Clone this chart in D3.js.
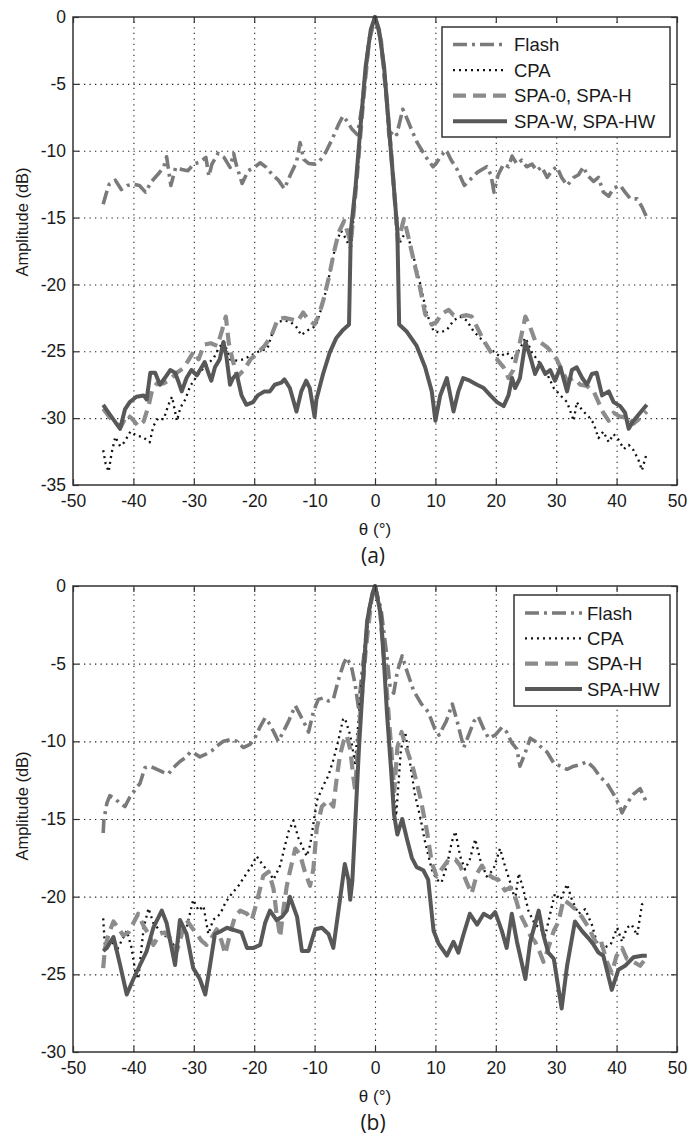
<!DOCTYPE html>
<html><head><meta charset="utf-8">
<script src="https://cdn.jsdelivr.net/npm/d3@7/dist/d3.min.js"></script>
<style>
body{margin:0;background:#fff;}
text{font-family:"Liberation Sans",Arial,Helvetica,sans-serif;fill:#1a1a1a;}
</style>
</head><body>
<svg id="chart" width="690" height="1136"></svg>
<script>
// ---------- data ----------
const xTicks = [-50,-40,-30,-20,-10,0,10,20,30,40,50];
const aYTicks = [0,-5,-10,-15,-20,-25,-30,-35];
const bYTicks = [0,-5,-10,-15,-20,-25,-30];
const aLegendLabels = ["Flash","CPA","SPA-0, SPA-H","SPA-W, SPA-HW"];
const bLegendLabels = ["Flash","CPA","SPA-H","SPA-HW"];
const xLabel = "θ (°)";
const yLabel = "Amplitude (dB)";
const captions = ["(a)","(b)"];

// panel (a): [theta, dB]
const aFlash = [[-45,-14.0],[-44.5,-13.2],[-44,-12.5],[-43,-12.2],[-42,-12.9],[-41,-12.6],[-40,-12.5],[-39,-12.6],[-38,-13.1],[-37,-12.3],[-36,-11.8],[-35,-11.25],[-34.5,-10.45],[-33.8,-12.6],[-33,-11.25],[-32,-11.4],[-31,-11.5],[-30,-11.0],[-29,-10.85],[-28,-10.5],[-27.5,-11.9],[-27,-11.0],[-26,-10.2],[-25,-10.5],[-24,-11.25],[-23.4,-10.2],[-23,-11.0],[-22,-12.45],[-21,-11.5],[-20,-11.25],[-19,-10.9],[-18,-11.25],[-17,-11.8],[-16,-12.2],[-15,-12.85],[-14,-11.8],[-13,-10.85],[-12.4,-9.4],[-11.8,-10.65],[-11,-10.95],[-10,-11.0],[-9.2,-10.8],[-8.2,-10.15],[-7.1,-9.15],[-6,-8.0],[-5.3,-7.4],[-4.6,-7.8],[-3.8,-8.4],[-2.9,-8.8],[-2.2,-6.8],[-1,-1.8],[0,0],[1,-1.8],[2,-6.6],[2.3,-8.9],[3.1,-8.5],[3.6,-8.8],[4.6,-6.9],[5.4,-7.7],[6.2,-8.6],[7.0,-9.4],[7.8,-10.0],[8.7,-10.65],[9.6,-11.2],[10.2,-10.9],[10.9,-10.4],[11.8,-9.95],[12.6,-10.7],[13.6,-11.4],[14.8,-12.6],[15.9,-12.1],[17,-11.6],[18.5,-11.2],[19.2,-11.8],[19.7,-13.1],[20.4,-11.8],[21.3,-11.0],[22.1,-11.2],[22.7,-10.4],[23.5,-11.0],[24.3,-10.7],[25.1,-11.2],[26,-11.0],[26.8,-11.5],[27.6,-11.2],[28.5,-12.0],[29.3,-11.5],[30.1,-11.2],[30.9,-12.0],[31.8,-12.6],[32.9,-12.0],[33.7,-11.8],[34.5,-11.2],[35.1,-11.8],[36.2,-12.3],[37,-12.0],[37.8,-13.1],[38.7,-13.4],[39.5,-12.8],[40.6,-12.6],[41.4,-13.1],[42.3,-13.6],[43.4,-13.6],[44.2,-14.2],[45,-15.0]];
const aCpa = [[-45,-32.4],[-44.6,-33.4],[-44.1,-34.0],[-43.6,-32.6],[-43,-31.4],[-42.2,-32.1],[-41.5,-31.8],[-40.5,-31.0],[-39.5,-31.3],[-38.5,-31.4],[-37.3,-31.8],[-36.7,-30.6],[-35.9,-30.0],[-35,-30.1],[-34.2,-29.0],[-33.6,-28.4],[-32.8,-30.2],[-32.2,-29.2],[-31.4,-28.6],[-30.6,-27.6],[-29.7,-27.0],[-28.9,-26.5],[-27.8,-26.0],[-26.7,-25.5],[-25.8,-24.7],[-25,-24.3],[-24,-25.6],[-22.8,-25.7],[-21.7,-25.6],[-20.5,-25.3],[-19.2,-25.0],[-17.8,-24.8],[-17.2,-23.9],[-16.2,-22.8],[-15,-22.7],[-14,-22.8],[-13,-23.2],[-12.2,-23.8],[-11.4,-23.5],[-10.6,-23.3],[-9.8,-23.1],[-8.6,-21.4],[-7.5,-19.2],[-6.4,-16.8],[-5.6,-16.0],[-4.8,-16.6],[-4.0,-17.4],[-3,-12],[-2,-6.5],[-1,-1.8],[0,0],[1,-1.8],[2,-6.5],[3,-12],[3.8,-17.2],[4.4,-16.6],[5.2,-16.0],[6.1,-17.4],[7.5,-20.0],[8.6,-22.2],[9.7,-23.5],[10.8,-23.6],[11.9,-23.4],[13,-22.7],[14.1,-22.4],[15.2,-22.7],[16.3,-23.5],[17.4,-24.0],[18.5,-24.6],[19.6,-25.0],[20.7,-25.4],[21.8,-25.1],[22.9,-25.6],[24,-24.8],[24.9,-24.0],[26,-25.1],[27.3,-25.9],[28.5,-26.7],[29.6,-27.75],[30.7,-28.3],[31.8,-28.8],[32.9,-30.2],[33.4,-28.8],[34.3,-29.4],[35.4,-29.9],[36.2,-30.4],[37,-31.5],[37.8,-31.0],[38.7,-31.8],[39.5,-31.2],[40.3,-31.6],[41.2,-32.3],[42,-32.0],[42.8,-32.4],[43.6,-33.1],[44.2,-33.9],[45,-32.6]];
const aSpa = [[-45,-29.3],[-44,-29.9],[-43,-30.4],[-42,-30.6],[-41.1,-29.75],[-40.3,-30.0],[-39.2,-30.6],[-38.3,-30.25],[-37.5,-29.1],[-36.9,-27.9],[-36.1,-27.4],[-35,-27.4],[-33.9,-27.1],[-32.8,-26.6],[-31.7,-26.25],[-30.8,-25.6],[-30,-25.0],[-29.2,-25.6],[-28.3,-24.5],[-27.2,-24.4],[-26.1,-24.6],[-25.3,-23.4],[-24.7,-22.4],[-24.2,-24.4],[-23.6,-25.6],[-22.8,-26.9],[-21.7,-26.4],[-20.6,-25.6],[-19.4,-25.1],[-18.3,-24.6],[-17.2,-23.9],[-16.1,-22.6],[-15,-22.5],[-13.9,-22.6],[-12.8,-22.75],[-11.9,-22.1],[-11.1,-22.6],[-10,-23.0],[-9.3,-22.3],[-8.5,-21.1],[-7.6,-19.4],[-6.8,-17.6],[-6,-16.1],[-5.1,-15.25],[-4,-16.9],[-3,-12],[-2,-6.5],[-1,-1.8],[0,0],[1,-1.8],[2,-6.5],[3,-12],[3.8,-16.8],[4.8,-15.1],[5.6,-16.6],[6.5,-18.4],[7.3,-19.9],[8.3,-22.2],[9.4,-23.0],[10.2,-22.8],[11,-22.2],[12.2,-21.9],[13,-22.3],[14.1,-22.4],[15.2,-22.3],[16,-22.4],[16.9,-23.2],[18,-24.2],[19.1,-25.0],[20.2,-25.6],[21.3,-26.2],[22.1,-27.0],[22.9,-26.4],[24,-24.3],[24.9,-22.4],[25.7,-23.2],[26.5,-24.2],[27.3,-24.3],[28.5,-24.7],[29.3,-25.1],[30.1,-25.6],[30.9,-26.4],[31.8,-27.2],[32.9,-27.0],[34,-27.5],[35.1,-27.6],[36.2,-28.0],[37,-28.8],[37.8,-29.6],[38.7,-30.2],[39.5,-29.6],[40.6,-29.9],[41.7,-29.9],[42.8,-30.4],[43.9,-30.0],[45,-29.5]];
const aSpaW = [[-45,-29.0],[-44.1,-29.6],[-43,-30.3],[-42.2,-30.8],[-41.4,-29.35],[-40.6,-28.8],[-39.5,-28.4],[-38.3,-28.3],[-37.8,-28.6],[-37.2,-26.6],[-36.4,-26.6],[-35.6,-27.5],[-34.8,-27.0],[-33.9,-26.4],[-33.1,-26.6],[-32.6,-27.2],[-32,-28.0],[-31.2,-27.0],[-30.4,-26.4],[-29.5,-26.8],[-28.7,-26.2],[-28.2,-25.8],[-27.6,-26.6],[-27.1,-27.2],[-26.5,-26.2],[-25.7,-25.6],[-25.1,-24.3],[-24.6,-25.4],[-24,-27.5],[-23.5,-27.0],[-22.9,-26.7],[-22.1,-28.3],[-21.3,-29.0],[-20.2,-28.8],[-19.4,-28.3],[-18.3,-28.0],[-17.4,-28.0],[-16.6,-27.5],[-15.5,-27.35],[-15,-27.1],[-14.1,-27.75],[-13,-29.5],[-12.2,-28.0],[-11.4,-27.2],[-10.8,-27.75],[-10,-29.9],[-9.7,-28.6],[-8.6,-26.7],[-7.5,-25.1],[-6.4,-24.0],[-5.3,-23.4],[-4.3,-23.0],[-4.0,-16],[-3.2,-12.6],[-2.4,-8.2],[-1.55,-3.7],[-0.7,-0.95],[0,0],[0.66,-0.95],[1.5,-3.7],[2.3,-8.2],[3.1,-12.6],[3.7,-16],[4.0,-23.0],[5.2,-23.5],[6.9,-24.6],[8.3,-26.2],[9.4,-28.0],[10,-30.2],[10.8,-28.3],[11.9,-27.0],[13,-29.5],[13.8,-28.0],[14.6,-27.0],[15.7,-27.2],[16.9,-27.5],[18,-27.75],[19.1,-28.3],[20.2,-28.8],[21.3,-29.1],[22.1,-28.3],[22.7,-27.0],[23.2,-27.75],[24,-27.0],[24.9,-24.3],[25.7,-25.4],[26.5,-26.7],[27.3,-25.9],[28.2,-26.7],[29,-26.4],[29.8,-27.2],[30.7,-26.2],[31.8,-28.0],[32.6,-26.4],[33.4,-26.2],[34.3,-27.0],[35.1,-27.5],[35.9,-26.7],[36.7,-26.6],[37.6,-28.3],[38.7,-28.0],[39.5,-28.8],[40.6,-29.1],[41.4,-29.6],[42,-30.8],[42.8,-30.2],[43.9,-29.6],[45,-29.0]];

// panel (b): [theta, dB]
const bFlash = [[-45,-15.9],[-44.9,-15.1],[-44.4,-14.0],[-43.9,-13.5],[-43,-13.7],[-42.2,-14.0],[-41.4,-14.2],[-40.6,-13.6],[-39.7,-13.1],[-38.9,-12.7],[-38.1,-11.7],[-37.2,-11.6],[-36.1,-11.8],[-35,-12.0],[-34.2,-12.1],[-33.4,-11.7],[-32.3,-11.3],[-31.2,-11.0],[-30.6,-10.7],[-29.8,-10.8],[-29,-11.0],[-27.9,-10.8],[-27,-10.6],[-26.2,-10.3],[-25.1,-10.0],[-24,-9.9],[-22.9,-10.0],[-21.8,-10.4],[-20.7,-10.2],[-19.9,-9.8],[-19,-9.05],[-18.2,-8.5],[-17.4,-8.9],[-16.5,-9.6],[-16,-10.0],[-15.2,-9.4],[-14.3,-8.7],[-13.2,-7.7],[-12.4,-8.3],[-11.6,-8.9],[-11,-9.4],[-10.2,-8.1],[-9.4,-7.3],[-8.5,-7.2],[-7.7,-7.4],[-6.9,-7.3],[-6.1,-6.1],[-5.2,-5.0],[-4.7,-4.6],[-3.9,-5.2],[-3.3,-6.3],[-2.75,-7.8],[-2,-5],[-1,-1.5],[0,0],[1,-1.5],[2,-4.6],[2.5,-6.5],[3.1,-6.9],[3.7,-5.5],[4.5,-4.5],[5.3,-5.5],[6.4,-6.75],[7.7,-7.6],[8.8,-8.1],[9.9,-9.2],[10.6,-9.6],[11.8,-8.7],[12.8,-7.6],[13.6,-8.7],[14.7,-10.4],[15.5,-9.6],[16.4,-8.7],[17.1,-8.4],[18,-9.2],[18.8,-9.8],[19.9,-9.6],[21,-9.1],[21.8,-9.4],[22.65,-10.1],[23.5,-10.5],[24,-11.6],[24.9,-10.7],[25.7,-9.8],[26.5,-10.0],[27.3,-10.3],[28.5,-10.7],[29.6,-11.4],[30.7,-11.6],[31.8,-11.8],[32.9,-11.6],[34,-11.5],[35.1,-11.3],[36.2,-11.7],[37.3,-12.3],[38.4,-12.7],[39.5,-13.4],[40.3,-14.0],[40.9,-14.6],[41.7,-14.0],[42.8,-13.4],[43.9,-13.05],[44.8,-13.8]];
const bCpa = [[-45,-21.4],[-44.7,-23.3],[-43.6,-22.8],[-42.8,-23.5],[-41.9,-22.8],[-41.1,-22.2],[-40.3,-23.3],[-39.7,-24.8],[-39.2,-25.3],[-38.3,-22.0],[-37.5,-20.75],[-36.7,-21.7],[-35.6,-22.2],[-34.5,-22.6],[-33.4,-23.1],[-32.3,-22.8],[-31.2,-22.0],[-30.1,-20.2],[-29.2,-20.9],[-28.4,-20.6],[-27.6,-22.4],[-26.8,-21.5],[-25.6,-21.1],[-24.8,-20.4],[-23.7,-19.8],[-22.6,-19.3],[-21.5,-18.65],[-20.4,-18.0],[-19.6,-17.4],[-18.5,-18.0],[-17.6,-18.4],[-16.8,-18.9],[-15.7,-18.0],[-14.9,-16.7],[-14.3,-15.8],[-13.5,-15.1],[-12.7,-16.2],[-11.9,-16.9],[-11.3,-17.4],[-10.7,-16.6],[-10.2,-15.3],[-9.6,-13.8],[-8.5,-12.8],[-7.7,-12.2],[-6.9,-11.2],[-6.1,-10.0],[-5.3,-8.6],[-5.0,-8.5],[-4.1,-9.6],[-3.3,-11.4],[-2.5,-7.5],[-1.5,-3.2],[-0.6,-0.8],[0,0],[0.8,-1.5],[1.8,-6.8],[2.3,-9.5],[2.9,-12.6],[3.5,-14.8],[4.3,-10.5],[5.0,-9.4],[5.8,-11.4],[6.6,-13.4],[7.5,-14.9],[8.3,-16.5],[9.4,-18.25],[10.2,-18.9],[11,-19.1],[11.9,-18.0],[12.7,-16.5],[13.3,-15.8],[14.1,-17.4],[14.9,-18.25],[15.7,-17.6],[16.6,-16.3],[17.4,-17.6],[18.5,-18.7],[19.6,-18.25],[20.7,-16.9],[21.5,-18.0],[22.4,-19.1],[23.2,-20.2],[23.8,-18.5],[24.6,-19.6],[25.4,-20.9],[26.5,-21.8],[27.3,-22.0],[28.2,-22.5],[29,-21.1],[29.8,-19.8],[30.7,-20.2],[31.8,-19.2],[32.6,-20.2],[33.7,-21.1],[34.8,-20.8],[35.9,-21.8],[36.7,-22.9],[37.8,-23.3],[39,-23.1],[40.1,-22.0],[40.9,-22.9],[41.7,-22.0],[42.5,-21.8],[43.4,-22.5],[44.2,-20.5],[44.8,-20.3]];
const bSpa = [[-45,-24.6],[-44.7,-23.3],[-44.1,-22.4],[-43.3,-21.6],[-42.5,-22.0],[-41.7,-22.5],[-40.8,-22.3],[-40,-21.7],[-39.2,-21.1],[-38.3,-21.9],[-37.5,-22.4],[-36.7,-23.1],[-35.6,-22.4],[-34.8,-22.3],[-33.9,-22.7],[-32.8,-23.5],[-32,-22.4],[-31.2,-21.5],[-30.3,-22.0],[-29.5,-22.4],[-28.7,-22.85],[-27.9,-23.1],[-27,-22.6],[-26.2,-22.1],[-25.4,-22.85],[-24.8,-23.7],[-24,-22.4],[-23.2,-21.3],[-22.3,-20.9],[-21.2,-21.1],[-20.4,-21.5],[-19.6,-20.4],[-18.5,-18.65],[-17.6,-18.4],[-16.8,-19.5],[-16.3,-21.1],[-15.7,-22.6],[-15.2,-20.9],[-14.6,-19.3],[-14.1,-18.4],[-13.2,-16.9],[-12.4,-17.3],[-11.6,-18.4],[-10.75,-19.3],[-10.2,-18.2],[-9.65,-15.6],[-8.8,-14.2],[-7.7,-13.8],[-6.9,-14.2],[-6.3,-12.25],[-5.8,-10.9],[-5.2,-10.0],[-4.7,-9.6],[-4.1,-10.5],[-3.6,-12.25],[-3.3,-13.1],[-2.5,-8.5],[-1.5,-4.0],[-0.6,-0.9],[0,0],[0.8,-1.5],[1.8,-6],[2.6,-10],[3.2,-13.2],[3.7,-10.4],[4.4,-9.4],[5.25,-10.5],[6.35,-11.8],[7.5,-13.6],[8.6,-15.8],[9.4,-17.8],[10.2,-18.7],[11,-18.25],[12.2,-17.6],[13.3,-17.6],[14.1,-18.0],[15.2,-19.1],[16,-19.8],[16.9,-18.5],[17.7,-18.0],[18.5,-18.5],[19.6,-18.8],[20.4,-18.9],[21.5,-19.6],[22.4,-19.4],[23.2,-20.0],[24,-21.1],[24.9,-21.8],[25.7,-22.5],[26.5,-22.9],[27.3,-23.6],[27.9,-24.2],[28.7,-23.3],[29.6,-22.2],[30.4,-21.6],[31.2,-20.2],[32.3,-20.5],[33.4,-20.9],[34.25,-21.3],[35.4,-22.0],[36.5,-22.9],[37.3,-22.7],[38.4,-24.2],[39.2,-24.9],[40,-23.8],[40.9,-23.3],[41.7,-24.0],[42.8,-24.2],[43.9,-24.45],[44.8,-24.0]];
const bSpaW = [[-45,-23.5],[-44.4,-23.3],[-43.3,-22.6],[-42.2,-24.4],[-41.1,-26.3],[-40,-25.3],[-38.9,-24.4],[-37.8,-23.5],[-36.7,-22.0],[-35.3,-20.9],[-34.5,-21.7],[-33.1,-24.4],[-32.3,-21.5],[-31.2,-22.4],[-30.1,-24.6],[-29,-25.3],[-28.1,-26.3],[-27.3,-24.4],[-26.5,-22.4],[-25.4,-22.2],[-24.5,-22.0],[-23.7,-22.1],[-22.9,-22.2],[-22.1,-22.3],[-21.2,-23.3],[-20.1,-23.3],[-19,-23.1],[-18.2,-21.7],[-17.4,-20.9],[-16.3,-21.5],[-15.4,-21.3],[-14.6,-20.9],[-14.1,-20.0],[-12.9,-21.3],[-12.1,-23.5],[-11,-23.5],[-9.9,-22.1],[-8.8,-22.0],[-7.7,-22.4],[-6.9,-23.3],[-5.8,-20.2],[-5.0,-17.9],[-4.4,-18.9],[-4.1,-20.2],[-3.75,-19],[-3.2,-14.7],[-2.65,-10.4],[-1.8,-5.0],[-1.3,-2.25],[-0.44,-0.5],[0,0],[0.94,-1.8],[1.5,-5.0],[2.0,-8.3],[2.6,-11.5],[3.15,-14.7],[3.7,-16.0],[4.5,-15.0],[5.3,-16.3],[6.1,-17.5],[6.9,-18.1],[8.0,-18.3],[8.8,-18.9],[9.7,-22.2],[10.5,-23.0],[11.9,-23.8],[13,-22.9],[13.8,-23.6],[14.6,-22.5],[15.7,-21.1],[16.9,-21.8],[18,-21.1],[19.1,-21.35],[19.9,-21.0],[21,-22.2],[21.8,-23.3],[22.65,-21.1],[23.5,-22.9],[24.9,-25.3],[25.7,-22.9],[27.1,-20.9],[27.9,-22.5],[28.7,-23.6],[29.6,-24.0],[30.9,-27.2],[31.8,-24.45],[33.1,-21.6],[34.25,-22.2],[35.4,-22.7],[36.2,-23.1],[37,-23.6],[37.8,-23.8],[39.2,-26.0],[40.3,-24.7],[41.4,-24.45],[42.8,-23.9],[44.2,-23.8],[45,-23.8]];

// ---------- drawing ----------
const svg = d3.select("#chart");
const styles = [
  {stroke:"#7a7a7a", width:3.6, dash:"14,5,3,5"},
  {stroke:"#111111", width:2.3, dash:"2,4"},
  {stroke:"#8c8c8c", width:4.2, dash:"13,7"},
  {stroke:"#585858", width:4,   dash:null}
];
const L = 73, R = 677;
const fmt = d => String(d);

function drawPanel(cfg) {
  const {top, bottom, yMin, yTicks, series, labels, leg, caption, id, yLabelY} = cfg;
  const x = d3.scaleLinear().domain([-50,50]).range([L,R]);
  const y = d3.scaleLinear().domain([yMin,0]).range([bottom,top]);
  const g = svg.append("g");

  // grid
  g.append("g").attr("transform",`translate(0,${bottom})`)
    .call(d3.axisBottom(x).tickValues(xTicks.slice(1,-1)).tickSize(-(bottom-top)).tickFormat(""))
    .call(s=>s.select(".domain").remove())
    .selectAll("line").attr("stroke","#222").attr("stroke-width",1.1).attr("stroke-dasharray","1.3,4.2");
  g.append("g").attr("transform",`translate(${L},0)`)
    .call(d3.axisLeft(y).tickValues(yTicks.slice(1,-1)).tickSize(-(R-L)).tickFormat(""))
    .call(s=>s.select(".domain").remove())
    .selectAll("line").attr("stroke","#222").attr("stroke-width",1.1).attr("stroke-dasharray","1.3,4.2");

  // lines
  g.append("clipPath").attr("id","clip"+id).append("rect")
    .attr("x",L).attr("y",top-3).attr("width",R-L).attr("height",bottom-top+3);
  const line = d3.line().x(d=>x(d[0])).y(d=>y(d[1]));
  series.forEach((s,i)=>{
    const st = styles[i];
    g.append("path").datum(s).attr("d",line).attr("fill","none")
      .attr("clip-path",`url(#clip${id})`)
      .attr("stroke",st.stroke).attr("stroke-width",st.width)
      .attr("stroke-linejoin","round")
      .attr("stroke-dasharray",st.dash);
  });

  // axes with inward ticks
  const fs = "17.5px";
  g.append("g").attr("transform",`translate(0,${bottom})`)
    .call(d3.axisBottom(x).tickValues(xTicks).tickSizeInner(-6).tickSizeOuter(0).tickPadding(10).tickFormat(fmt))
    .call(s=>{s.select(".domain").remove();s.selectAll("line").attr("stroke","#333").attr("stroke-width",1.2);
      s.selectAll("text").style("font-size",fs).attr("fill","#1a1a1a").style("font-family","'Liberation Sans',Arial,sans-serif");});
  g.append("g").attr("transform",`translate(0,${top})`)
    .call(d3.axisTop(x).tickValues(xTicks).tickSizeInner(-6).tickSizeOuter(0).tickFormat(""))
    .call(s=>{s.select(".domain").remove();s.selectAll("line").attr("stroke","#333").attr("stroke-width",1.2);});
  g.append("g").attr("transform",`translate(${L},0)`)
    .call(d3.axisLeft(y).tickValues(yTicks).tickSizeInner(-6).tickSizeOuter(0).tickPadding(7).tickFormat(fmt))
    .call(s=>{s.select(".domain").remove();s.selectAll("line").attr("stroke","#333").attr("stroke-width",1.2);
      s.selectAll("text").style("font-size",fs).attr("fill","#1a1a1a").style("font-family","'Liberation Sans',Arial,sans-serif");});
  g.append("g").attr("transform",`translate(${R},0)`)
    .call(d3.axisRight(y).tickValues(yTicks).tickSizeInner(-6).tickSizeOuter(0).tickFormat(""))
    .call(s=>{s.select(".domain").remove();s.selectAll("line").attr("stroke","#333").attr("stroke-width",1.2);});

  // frame
  g.append("rect").attr("x",L).attr("y",top).attr("width",R-L).attr("height",bottom-top)
    .attr("fill","none").attr("stroke","#333").attr("stroke-width",1.5);

  // legend
  const lg = g.append("g");
  lg.append("rect").attr("x",leg.x0).attr("y",leg.y0).attr("width",leg.x1-leg.x0).attr("height",leg.y1-leg.y0)
    .attr("fill","#fff").attr("stroke","#333").attr("stroke-width",1.5);
  labels.forEach((lab,i)=>{
    const yy = leg.y0 + leg.first + i*leg.step;
    const st = styles[i];
    lg.append("line").attr("x1",leg.s0).attr("x2",leg.s1).attr("y1",yy).attr("y2",yy)
      .attr("stroke",st.stroke).attr("stroke-width",st.width).attr("stroke-dasharray",st.dash);
    lg.append("text").attr("x",leg.tx).attr("y",yy).attr("dy","0.36em")
      .style("font-size","18.5px").text(lab);
  });

  // labels
  g.append("text").attr("x",(L+R)/2).attr("y",bottom+50).attr("text-anchor","middle")
    .style("font-size","17px").text(xLabel);
  g.append("text").attr("transform",`translate(28,${yLabelY}) rotate(-90)`).attr("text-anchor","middle")
    .style("font-size","16.5px").text(yLabel);
  g.append("text").attr("x",(L+R)/2 - 2).attr("y",bottom+78).attr("text-anchor","middle")
    .style("font-size","21px").style("font-family","'Open Sans','Liberation Sans',sans-serif").text(caption);
}

drawPanel({id:"a", top:17, bottom:485, yMin:-35, yTicks:aYTicks, yLabelY:222,
  series:[aFlash,aCpa,aSpa,aSpaW], labels:aLegendLabels, caption:captions[0],
  leg:{x0:442,x1:670,y0:27,y1:137,first:17.5,step:25.6,s0:453,s1:507,tx:514}});
drawPanel({id:"b", top:586, bottom:1052, yMin:-30, yTicks:bYTicks, yLabelY:806,
  series:[bFlash,bCpa,bSpa,bSpaW], labels:bLegendLabels, caption:captions[1],
  leg:{x0:514,x1:670,y0:595,y1:706,first:18,step:25.3,s0:525,s1:582,tx:587}});
</script>
</body></html>
